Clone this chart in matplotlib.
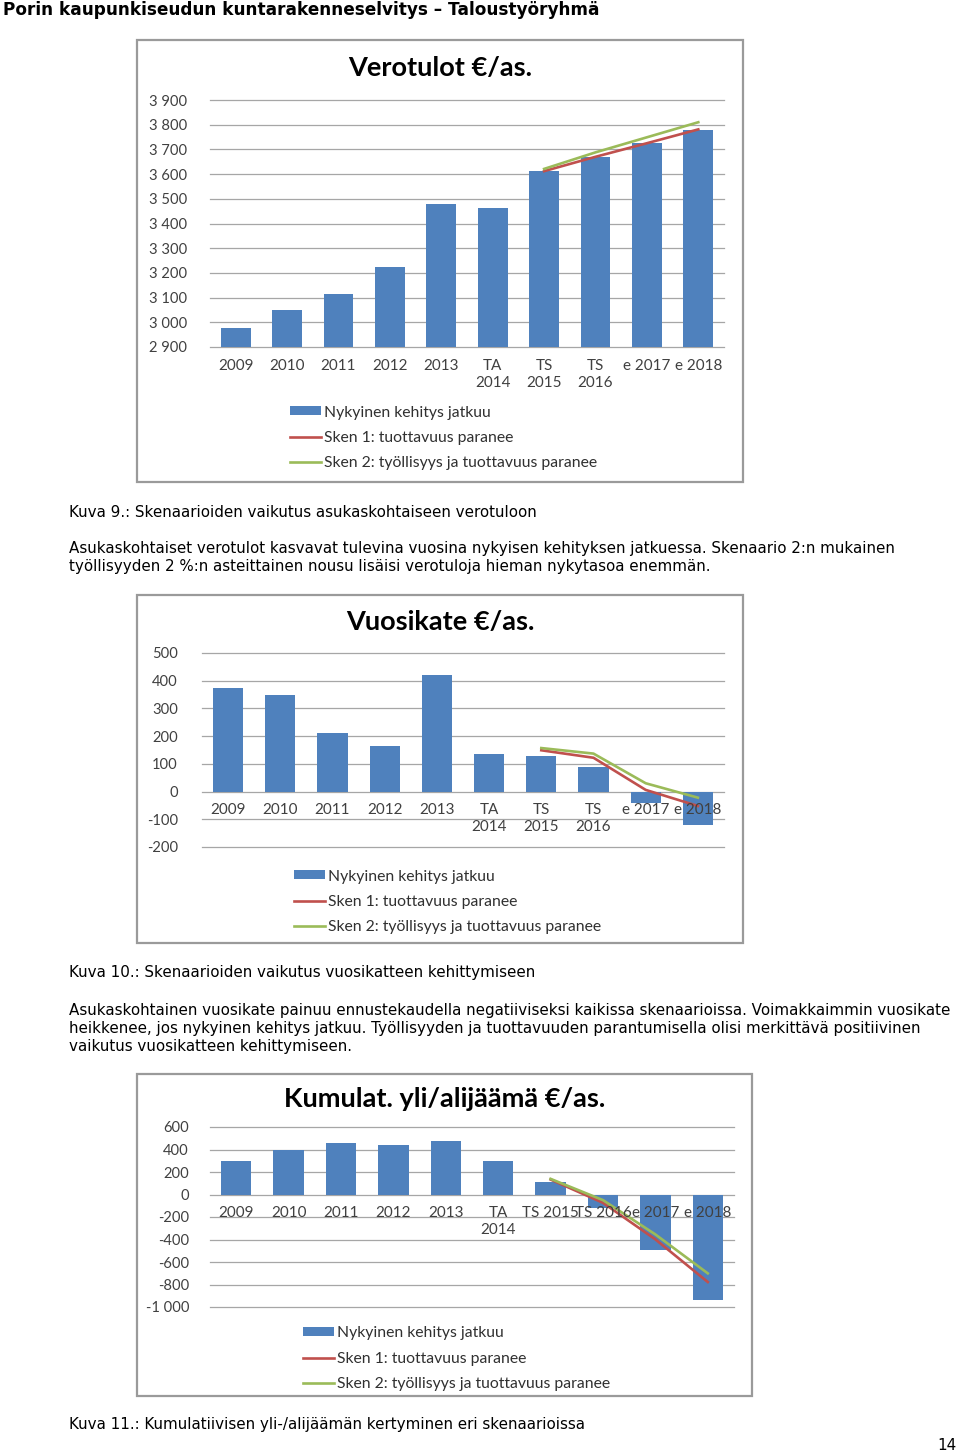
import numpy as np
import matplotlib
matplotlib.use("Agg")
import matplotlib.pyplot as plt
from matplotlib.patches import Rectangle, Patch
from matplotlib.lines import Line2D
from matplotlib.ticker import FuncFormatter

W, H = 960, 1453

# categories
CATS = ["2009", "2010", "2011", "2012", "2013", "TA\n2014", "TS\n2015", "TS\n2016", "e 2017", "e 2018"]
CATS_3 = ["2009", "2010", "2011", "2012", "2013", "TA\n2014", "TS 2015", "TS 2016", "e 2017", "e 2018"]

LEGEND_LABELS = [
    "Nykyinen kehitys jatkuu",
    "Sken 1: tuottavuus paranee",
    "Sken 2: työllisyys ja tuottavuus paranee",
]

# Verotulot €/as.
vero_bars = [2978, 3048, 3114, 3223, 3480, 3461, 3612, 3668, 3726, 3780]
vero_sken1 = [None, None, None, None, None, None, 3612, 3670, 3725, 3781]
vero_sken2 = [None, None, None, None, None, None, 3621, 3688, 3749, 3810]

# Vuosikate €/as.
vk_bars = [372, 350, 212, 163, 421, 134, 129, 88, -43, -120]
vk_sken1 = [None, None, None, None, None, None, 149, 122, 6, -52]
vk_sken2 = [None, None, None, None, None, None, 157, 137, 30, -22]

# Kumulat. yli/alijäämä €/as.
kum_bars = [296, 399, 459, 441, 479, 299, 115, -124, -497, -941]
kum_sken1 = [None, None, None, None, None, None, 133, -74, -399, -778]
kum_sken2 = [None, None, None, None, None, None, 139, -50, -355, -701]

BLUE = "#4f81bd"
RED = "#c0504d"
GREEN = "#9bbb59"
GRID = "#a6a6a6"
TICK = "#404040"
CHART_FONT = "Lato"
BODY_FONT = "DejaVu Sans"


def rect(x0, y0, x1, y1):
    return [x0 / W, 1 - y1 / H, (x1 - x0) / W, (y1 - y0) / H]


def fmt(v, pos):
    s = f"{abs(v):,.0f}".replace(",", " ")
    return ("-" + s) if v < 0 else s


def chart_box(fig, x0, y0, x1, y1):
    fig.patches.append(Rectangle((x0 / W, 1 - y1 / H), (x1 - x0) / W, (y1 - y0) / H,
                                 transform=fig.transFigure, fill=False,
                                 edgecolor="#9a9a9a", linewidth=1.6, zorder=0))


def draw_chart(fig, box, area, title, title_y, cats, bars, s1, s2, ylim, step,
               label_base, ypad, legend_xy):
    chart_box(fig, *box)
    fig.text((box[0] + box[2]) / 2 / W, 1 - title_y / H, title, ha="center", va="center",
             fontsize=19.5, fontweight="bold", family=CHART_FONT)

    ax = fig.add_axes(rect(*area))
    x = np.arange(len(cats))
    ax.bar(x, bars, width=0.58, color=BLUE, zorder=2)
    ax.plot(x, np.array(s1, dtype=float), color=RED, lw=1.9, zorder=3)
    ax.plot(x, np.array(s2, dtype=float), color=GREEN, lw=1.9, zorder=3)

    ax.set_xlim(-0.5, len(cats) - 0.5)
    ax.set_ylim(*ylim)
    ax.set_yticks(np.arange(ylim[0], ylim[1] + step / 2, step))
    ax.yaxis.set_major_formatter(FuncFormatter(fmt))
    ax.grid(axis="y", color=GRID, lw=0.9, zorder=0)
    for gl in ax.get_ygridlines():
        gl.set_clip_on(False)
    ax.set_axisbelow(True)
    for side in ["top", "right", "left", "bottom"]:
        ax.spines[side].set_visible(False)
    ax.set_xticks([])
    ax.tick_params(axis="y", length=0, pad=ypad, labelsize=10.6, labelcolor=TICK)
    for lab in ax.get_yticklabels():
        lab.set_family(CHART_FONT)

    # category labels sit just under the base line, drawn above the bars
    for i, c in enumerate(cats):
        ax.annotate(c, xy=(i, label_base), xytext=(0, -8.5), textcoords="offset points",
                    ha="center", va="top", fontsize=11, family=CHART_FONT, color=TICK,
                    linespacing=1.28, zorder=6, annotation_clip=False)

    handles = [Patch(facecolor=BLUE, edgecolor="none"),
               Line2D([], [], color=RED, lw=1.9),
               Line2D([], [], color=GREEN, lw=1.9)]
    leg = ax.legend(handles, LEGEND_LABELS, loc="upper left",
                    bbox_to_anchor=(legend_xy[0] / W, 1 - legend_xy[1] / H),
                    bbox_transform=fig.transFigure, frameon=False,
                    prop={"family": CHART_FONT, "size": 11.3}, handlelength=1.95,
                    handleheight=0.5, handletextpad=0.2, labelspacing=0.72,
                    borderpad=0, borderaxespad=0)
    for t in leg.get_texts():
        t.set_color("#303030")
    return ax


fig = plt.figure(figsize=(W / 100, H / 100), dpi=100)
fig.patch.set_facecolor("white")

fig.text(3 / W, 1 - 10 / H, "Porin kaupunkiseudun kuntarakenneselvitys – Taloustyöryhmä",
         ha="left", va="center", fontsize=12.2, fontweight="bold", family=BODY_FONT)

draw_chart(fig, (137, 40, 743, 482), (210, 100, 724, 347), "Verotulot €/as.", 68,
           CATS, vero_bars, vero_sken1, vero_sken2, (2900, 3900), 100, 2900, 16.6, (290, 405.5))

draw_chart(fig, (137, 595, 743, 943), (202, 653, 724, 847), "Vuosikate €/as.", 622,
           CATS, vk_bars, vk_sken1, vk_sken2, (-200, 500), 100, 0, 17.3, (294, 869.5))

draw_chart(fig, (137, 1074, 752, 1396), (210, 1127, 734, 1307), "Kumulat. yli/alijäämä €/as.", 1099,
           CATS_3, kum_bars, kum_sken1, kum_sken2, (-1000, 600), 200, 0, 15.1, (303, 1326.5))

body = dict(ha="left", va="center", fontsize=10.9, family=BODY_FONT, color="black")
fig.text(69 / W, 1 - 513 / H, "Kuva 9.: Skenaarioiden vaikutus asukaskohtaiseen verotuloon", **body)
fig.text(69 / W, 1 - 549 / H, "Asukaskohtaiset verotulot kasvavat tulevina vuosina nykyisen kehityksen jatkuessa. Skenaario 2:n mukainen", **body)
fig.text(69 / W, 1 - 567 / H, "työllisyyden 2 %:n asteittainen nousu lisäisi verotuloja hieman nykytasoa enemmän.", **body)
fig.text(69 / W, 1 - 973 / H, "Kuva 10.: Skenaarioiden vaikutus vuosikatteen kehittymiseen", **body)
fig.text(69 / W, 1 - 1010 / H, "Asukaskohtainen vuosikate painuu ennustekaudella negatiiviseksi kaikissa skenaarioissa. Voimakkaimmin vuosikate", **body)
fig.text(69 / W, 1 - 1028 / H, "heikkenee, jos nykyinen kehitys jatkuu. Työllisyyden ja tuottavuuden parantumisella olisi merkittävä positiivinen", **body)
fig.text(69 / W, 1 - 1046 / H, "vaikutus vuosikatteen kehittymiseen.", **body)
fig.text(69 / W, 1 - 1425 / H, "Kuva 11.: Kumulatiivisen yli-/alijäämän kertyminen eri skenaarioissa", **body)
fig.text(957 / W, 1 - 1446 / H, "14", ha="right", va="center", fontsize=10.9, family=BODY_FONT)

fig.savefig("out.png", dpi=100, facecolor="white")
